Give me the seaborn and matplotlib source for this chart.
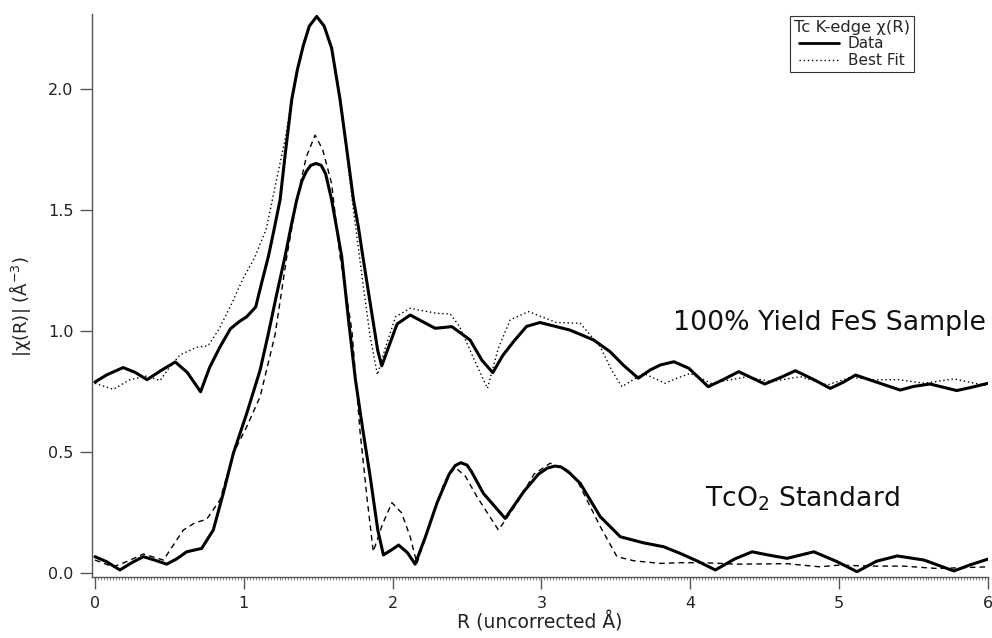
import matplotlib
matplotlib.use("Agg")
import matplotlib.pyplot as plt
from matplotlib.lines import Line2D
from matplotlib.ticker import MultipleLocator
import numpy as np
import pandas as pd
import seaborn as sns

# ---------------- data ----------------
sample_data_r = [0, 0.08, 0.19, 0.27, 0.35, 0.45, 0.54, 0.62, 0.71, 0.77, 0.84, 0.91, 0.97,
                 1.02, 1.08, 1.12, 1.165, 1.20, 1.244, 1.28, 1.322, 1.36, 1.40, 1.44, 1.49, 1.54,
                 1.59, 1.647, 1.69, 1.737, 1.77, 1.80, 1.849, 1.90, 1.927, 1.97, 2.03, 2.118, 2.2,
                 2.286, 2.398, 2.52, 2.6, 2.673, 2.74, 2.812, 2.9, 2.99, 3.19, 3.35, 3.46, 3.55,
                 3.65, 3.73, 3.80, 3.89, 3.99, 4.12, 4.22, 4.325, 4.50, 4.61, 4.706, 4.83, 4.94,
                 5.03, 5.11, 5.25, 5.41, 5.5, 5.61, 5.79, 5.9, 6.0]
sample_data_chi = [0.79, 0.82, 0.85, 0.83, 0.80, 0.84, 0.873, 0.83, 0.75, 0.85, 0.935, 1.01, 1.04,
                   1.06, 1.10, 1.20, 1.308, 1.41, 1.543, 1.74, 1.956, 2.08, 2.18, 2.26, 2.30, 2.26,
                   2.17, 1.956, 1.76, 1.543, 1.43, 1.308, 1.117, 0.92, 0.857, 0.93, 1.03, 1.067, 1.04,
                   1.012, 1.019, 0.964, 0.88, 0.829, 0.90, 0.957, 1.02, 1.036, 1.005, 0.964, 0.916, 0.86,
                   0.806, 0.84, 0.861, 0.874, 0.847, 0.771, 0.80, 0.833, 0.782, 0.81, 0.837, 0.80, 0.764,
                   0.79, 0.819, 0.79, 0.757, 0.772, 0.782, 0.755, 0.77, 0.785]

sample_fit_r = [0, 0.123, 0.235, 0.347, 0.437, 0.50, 0.571, 0.684, 0.76, 0.83, 0.908, 0.997,
                1.07, 1.15, 1.22, 1.28, 1.322, 1.36, 1.40, 1.44, 1.49, 1.54, 1.59, 1.647, 1.69,
                1.737, 1.80, 1.849, 1.898, 1.95, 2.02, 2.118, 2.2, 2.297, 2.387, 2.45, 2.55,
                2.637, 2.71, 2.79, 2.913, 3.10, 3.26, 3.395, 3.47, 3.54, 3.686, 3.83, 3.91, 4.0,
                4.14, 4.38, 4.54, 4.74, 4.92, 5.08, 5.23, 5.40, 5.57, 5.77, 6.0]
sample_fit_chi = [0.785, 0.76, 0.80, 0.815, 0.796, 0.85, 0.902, 0.934, 0.94, 1.005, 1.10, 1.22,
                  1.30, 1.42, 1.625, 1.80, 1.956, 2.08, 2.18, 2.26, 2.30, 2.26, 2.16, 1.956, 1.74,
                  1.50, 1.20, 0.978, 0.82, 0.93, 1.06, 1.095, 1.085, 1.074, 1.071, 1.019, 0.88,
                  0.764, 0.93, 1.047, 1.081, 1.036, 1.033, 0.936, 0.84, 0.771, 0.826, 0.785, 0.806, 0.826,
                  0.785, 0.812, 0.792, 0.812, 0.778, 0.81, 0.799, 0.80, 0.785, 0.803, 0.774]

std_data_r = [0, 0.079, 0.168, 0.25, 0.325, 0.40, 0.482, 0.55, 0.616, 0.717, 0.795, 0.862, 0.93,
              1.02, 1.11, 1.165, 1.22, 1.277, 1.32, 1.356, 1.39, 1.42, 1.45, 1.486, 1.52, 1.55,
              1.59, 1.62, 1.658, 1.703, 1.75, 1.80, 1.849, 1.90, 1.938, 2.0, 2.04, 2.1, 2.151,
              2.22, 2.297, 2.38, 2.42, 2.458, 2.50, 2.53, 2.61, 2.756, 2.88, 2.98, 3.04, 3.09,
              3.13, 3.18, 3.26, 3.395, 3.53, 3.686, 3.82, 3.93, 4.05, 4.168, 4.3, 4.415, 4.53,
              4.65, 4.83, 4.98, 5.12, 5.25, 5.39, 5.57, 5.77, 5.88, 6.0]
std_data_chi = [0.069, 0.048, 0.014, 0.045, 0.069, 0.055, 0.038, 0.06, 0.089, 0.103, 0.179, 0.33, 0.496,
                0.661, 0.84, 0.99, 1.15, 1.308, 1.44, 1.543, 1.62, 1.66, 1.685, 1.693, 1.685, 1.65,
                1.543, 1.44, 1.308, 1.05, 0.80, 0.592, 0.40, 0.18, 0.076, 0.10, 0.117, 0.085, 0.038,
                0.15, 0.289, 0.41, 0.445, 0.457, 0.447, 0.42, 0.33, 0.227, 0.337, 0.41, 0.435, 0.443,
                0.44, 0.42, 0.372, 0.234, 0.151, 0.126, 0.11, 0.083, 0.05, 0.014, 0.06, 0.089, 0.075,
                0.062, 0.089, 0.05, 0.007, 0.05, 0.072, 0.055, 0.01, 0.035, 0.059]

std_fit_r = [0, 0.123, 0.22, 0.325, 0.46, 0.594, 0.672, 0.75, 0.84, 0.93, 1.02, 1.11, 1.21, 1.289,
             1.356, 1.42, 1.479, 1.53, 1.59, 1.647, 1.726, 1.78, 1.83, 1.87, 1.93, 1.995, 2.06,
             2.118, 2.163, 2.274, 2.35, 2.42, 2.49, 2.566, 2.711, 2.835, 2.95, 3.059, 3.15, 3.238,
             3.395, 3.507, 3.62, 3.80, 3.93, 4.09, 4.31, 4.65, 4.87, 5.0, 5.2, 5.43, 5.66, 6.0]
std_fit_chi = [0.055, 0.027, 0.05, 0.08, 0.055, 0.179, 0.209, 0.223, 0.303, 0.496, 0.606, 0.73, 0.985, 1.308,
               1.543, 1.72, 1.81, 1.75, 1.61, 1.308, 1.005, 0.592, 0.3, 0.09, 0.2, 0.292, 0.25,
               0.151, 0.041, 0.248, 0.38, 0.438, 0.4, 0.317, 0.179, 0.289, 0.41, 0.455, 0.43, 0.386,
               0.193, 0.069, 0.052, 0.041, 0.044, 0.044, 0.038, 0.04, 0.027, 0.034, 0.03, 0.03, 0.02, 0.027]

x_ticks = [0, 1, 2, 3, 4, 5, 6]
x_tick_labels = ["0", "1", "2", "3", "4", "5", "6"]
y_ticks = [0.0, 0.5, 1.0, 1.5, 2.0]
y_tick_labels = ["0.0", "0.5", "1.0", "1.5", "2.0"]

# ---------------- style ----------------
sns.set_style("ticks")
plt.rcParams["font.family"] = ["DejaVu Sans"]
plt.rcParams["mathtext.default"] = "regular"

axis_col = "#555555"
fig = plt.figure(figsize=(9.92, 6.38), dpi=100)
ax = fig.add_axes([0.093, 0.096, 0.903, 0.882])

def draw(r, chi, **kw):
    df = pd.DataFrame({"R": r, "chi": chi})
    sns.lineplot(data=df, x="R", y="chi", ax=ax, sort=False, estimator=None,
                 color="black", **kw)

draw(sample_fit_r, sample_fit_chi, lw=1.0, linestyle=(0, (1, 2)))
draw(std_fit_r, std_fit_chi, lw=1.0, linestyle=(0, (4, 3)))
draw(sample_data_r, sample_data_chi, lw=2.2)
draw(std_data_r, std_data_chi, lw=2.2)

ax.set_xlim(-0.018, 6.0)
ax.set_ylim(-0.014, 2.31)
ax.set_xticks(x_ticks)
ax.set_xticklabels(x_tick_labels)
ax.set_yticks(y_ticks)
ax.set_yticklabels(y_tick_labels)
ax.xaxis.set_minor_locator(MultipleLocator(0.02))

for side in ["top", "right"]:
    ax.spines[side].set_visible(False)
for side in ["left", "bottom"]:
    ax.spines[side].set_color(axis_col)
    ax.spines[side].set_linewidth(1.0)

ax.tick_params(axis="both", which="major", direction="out", length=8.5, width=1.0,
               color=axis_col, labelsize=11.5, labelcolor="#222222", pad=5)
ax.tick_params(axis="x", which="minor", direction="out", length=2.2, width=0.5,
               color=axis_col)

ax.set_xlabel("R (uncorrected Å)", fontsize=13.5, color="#222222", labelpad=1)
ax.set_ylabel("|χ(R)| (Å$^{-3}$)", fontsize=13, color="#222222")
ax.yaxis.set_label_coords(-0.066, 0.48)

ax.text(3.886, 1.005, "100% Yield FeS Sample", fontsize=19.3, ha="left", va="baseline",
        color="#111111")
ax.text(4.10, 0.275, "TcO$_2$ Standard", fontsize=19.2, ha="left", va="baseline",
        color="#111111")

handles = [Line2D([], [], color="black", lw=2.0),
           Line2D([], [], color="black", lw=1.0, linestyle=(0, (1, 2)))]
leg = ax.legend(handles, ["Data", "Best Fit"], title="Tc K-edge χ(R)",
                loc="upper left", bbox_to_anchor=(790 / 992, 1 - 16 / 638),
                bbox_transform=fig.transFigure, fontsize=11, title_fontsize=11.8,
                frameon=True, fancybox=False, framealpha=1, edgecolor="#333333",
                handlelength=2.6, handletextpad=0.6, borderpad=0.25, labelspacing=0.1,
                borderaxespad=0)
leg.get_frame().set_linewidth(0.8)

fig.savefig("out.png", dpi=100)
